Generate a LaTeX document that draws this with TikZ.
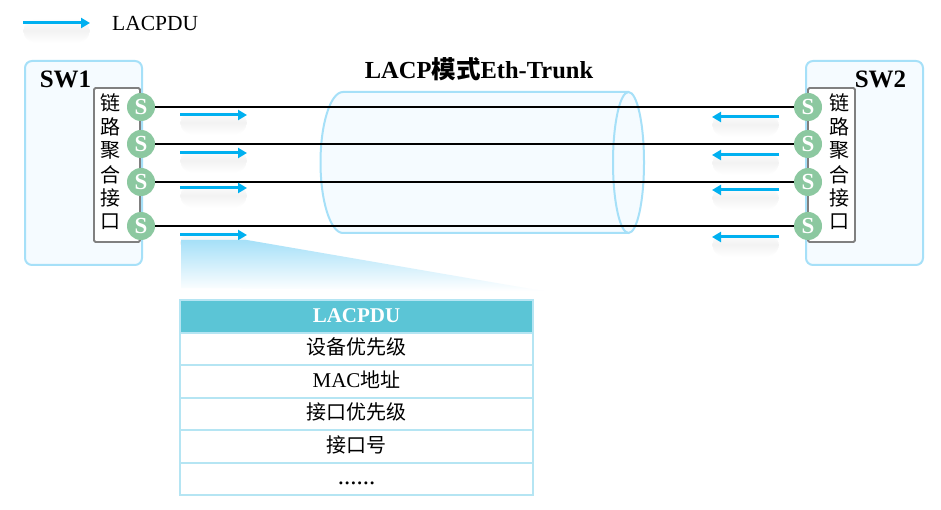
\documentclass[tikz,border=0pt]{standalone}
\usepackage{fontspec}
\setmainfont{Liberation Serif}
\newfontfamily\cjk{Noto Sans CJK SC}
\usetikzlibrary{arrows.meta}
\definecolor{pale}{HTML}{F5FBFF}
\definecolor{skyline}{HTML}{A6E0F8}
\definecolor{pdublue}{HTML}{00B0F0}
\definecolor{portgreen}{HTML}{8CC8A0}
\definecolor{headcyan}{HTML}{5BC5D6}
\definecolor{rowline}{HTML}{B5E5F3}
\tikzset{
  swbox/.style={draw=skyline,fill=pale,line width=2pt,rounded corners=7pt},
  lagbox/.style={draw=gray,fill=white,line width=1.8pt,rounded corners=1.5pt},
  port/.style={circle,fill=portgreen,text=white,minimum size=28pt,inner sep=0pt,font=\fontsize{23}{23}\selectfont\bfseries},
  link/.style={black,line width=2pt},
  pdu/.style={pdublue,line width=3pt,-{Triangle[length=9pt,width=10pt]}},
  pdushade/.style={black,opacity=0.005,line cap=round},
  lagtext/.style={inner sep=0pt,font=\fontsize{20}{20}\selectfont\cjk},
  swtext/.style={inner sep=0pt,font=\fontsize{25}{25}\selectfont\bfseries},
  row/.style={draw=rowline,line width=2pt,minimum width=353pt,minimum height=32.5pt,inner sep=0pt,text height=15pt,text depth=4pt,font=\fontsize{21}{21}\selectfont}
}
\begin{document}
\begin{tikzpicture}[x=1pt,y=-1pt]
  \useasboundingbox (0,0) rectangle (941,510);
  \fill[white] (0,0) rectangle (941,510);
  \draw[swbox] (25,61) rectangle (142,265);
  \draw[swbox] (806,61) rectangle (923,265);
  \draw[lagbox] (94,88) rectangle (140,242);
  \draw[lagbox] (808,88) rectangle (855,242);
  \node[swtext] (sw1) at (65.5,79) {SW1};
  \node[swtext] (sw2) at (880.5,79) {SW2};
  \foreach \n/\y/\t in {a/103/链,b/127/路,c/150/聚,d/175/合,e/198/接,f/222/口}{
    \node[lagtext] (l\n) at (110.5,\y) {\t};
    \node[lagtext] (r\n) at (839,\y) {\t};
  }
  \draw[skyline,fill=pale,line width=2pt] (628.5,92) -- (343,92) arc[start angle=90,end angle=270,x radius=22.5,y radius=-70.5] -- (628.5,233);
  \draw[skyline,fill=pale,line width=2pt] (628.5,162.5) ellipse[x radius=15.5,y radius=70.5];
  \node[inner sep=0pt,font=\fontsize{24.5}{24.5}\selectfont\bfseries] (title) at (479,69) {LACP{\cjk 模式}Eth-Trunk};
  \foreach \n/\y in {1/107,2/144,3/182,4/226}{
    \node[port] (p\n) at (141,\y) {S};
    \node[port] (q\n) at (808,\y) {S};
    \draw[link] (p\n) -- (q\n);
  }
  \coordinate (legs) at (23,23);
  \coordinate (lege) at (90,23);
  \node[anchor=west,inner sep=0pt,font=\fontsize{21.5}{21.5}\selectfont] (legend) at (112,23) {LACPDU};
  \foreach \w in {2,4,...,24}
    \draw[pdushade,line width=\w pt,shorten >=0.5*\w pt,shorten <=0.5*\w pt] ([yshift=-8pt]legs) -- ([yshift=-8pt]lege);
  \draw[pdu] (legs) -- (lege);
  \foreach \n/\y/\z in {1/115/117,2/153/155,3/188/190,4/235/237}{
    \coordinate (ls\n) at (180,\y);
    \coordinate (le\n) at (247,\y);
    \coordinate (rs\n) at (779,\z);
    \coordinate (re\n) at (712,\z);
    \foreach \w in {2,4,...,24}{
      \draw[pdushade,line width=\w pt,shorten >=0.5*\w pt,shorten <=0.5*\w pt] ([yshift=-8pt]ls\n) -- ([yshift=-8pt]le\n);
      \draw[pdushade,line width=\w pt,shorten >=0.5*\w pt,shorten <=0.5*\w pt] ([yshift=-8pt]rs\n) -- ([yshift=-8pt]re\n);
    }
    \draw[pdu] (ls\n) -- (le\n);
    \draw[pdu] (rs\n) -- (re\n);
  }
  \shade[top color=skyline,bottom color=white] (181,240) -- (247,240) -- (543,291) -- (181,288) -- cycle;
  \node[row,fill=headcyan,text=white,font=\fontsize{21}{21}\selectfont\bfseries] (head) at (356.5,316.5) {LACPDU};
  \foreach \n/\y/\t in {a/349/{\cjk\fontsize{20}{20}\selectfont 设备优先级},b/381.5/{MAC{\cjk\fontsize{20}{20}\selectfont 地址}},c/414/{\cjk\fontsize{20}{20}\selectfont 接口优先级},d/446.5/{\cjk\fontsize{20}{20}\selectfont 接口号},e/479/{\fontsize{25}{25}\selectfont ......}}
    \node[row] (row\n) at (356.5,\y) {\t};
\end{tikzpicture}
\end{document}
